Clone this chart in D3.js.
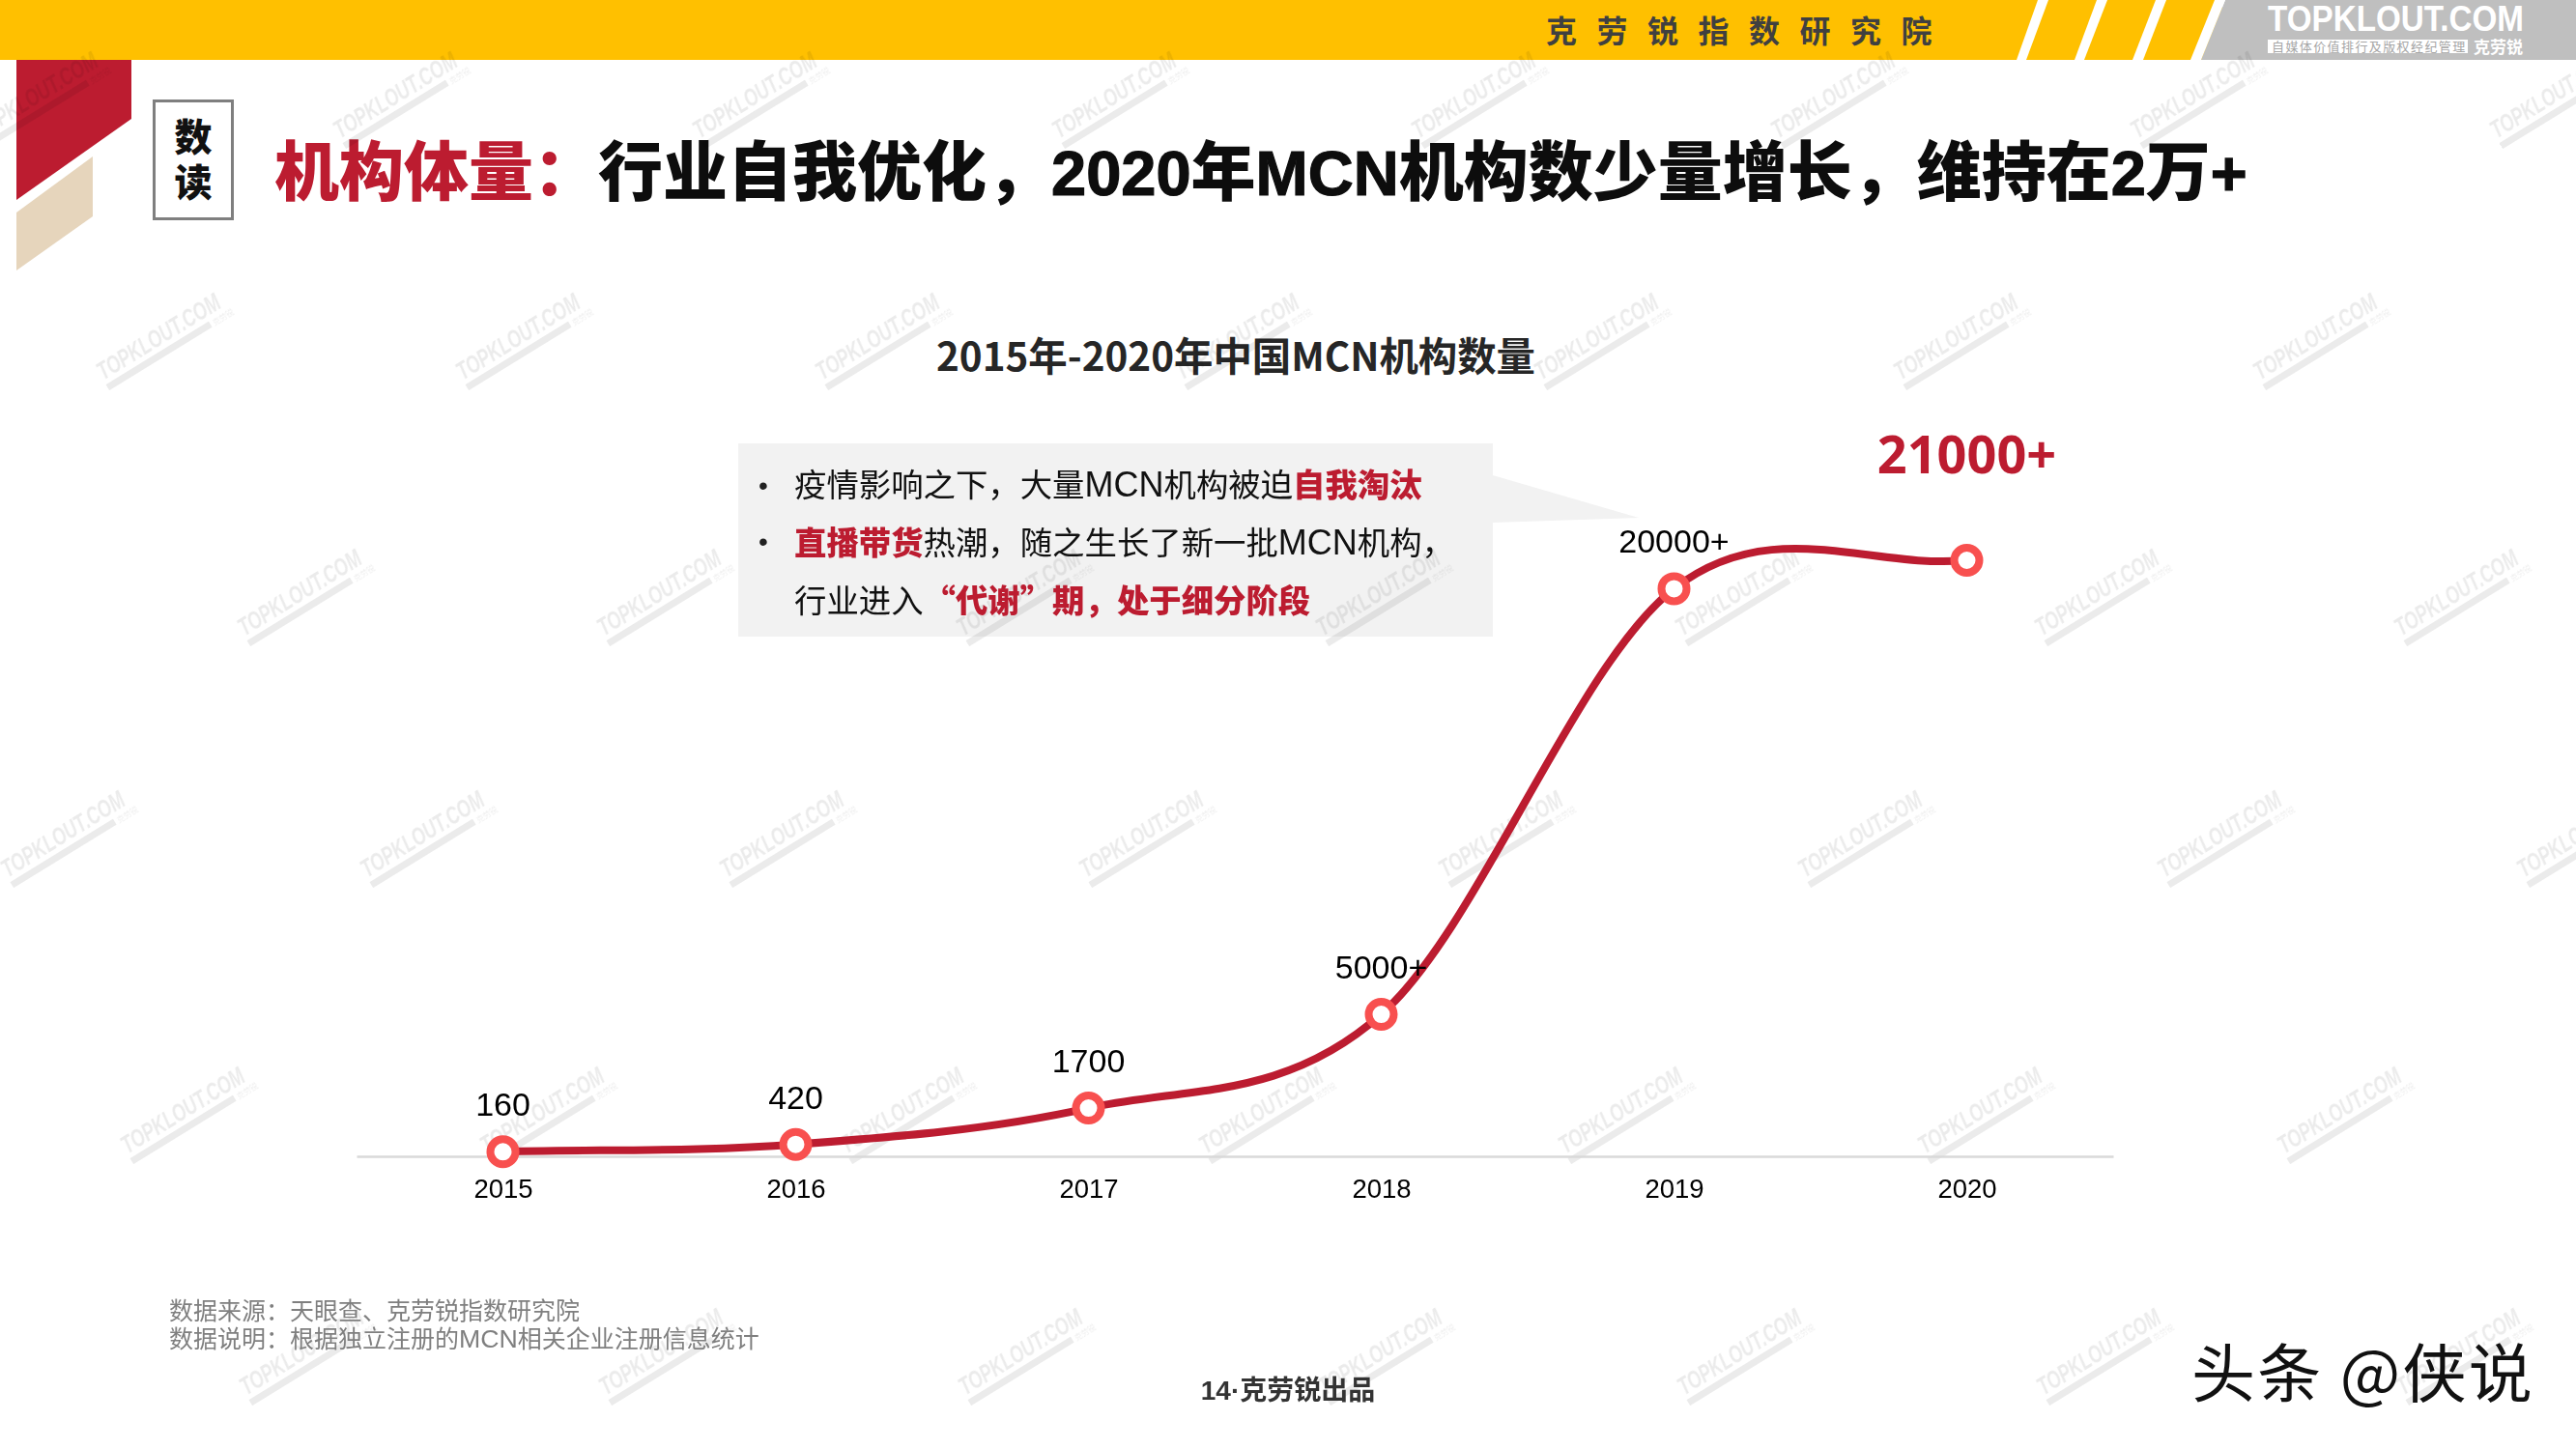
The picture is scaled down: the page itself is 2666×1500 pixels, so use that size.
<!DOCTYPE html>
<html>
<head>
<meta charset="utf-8">
<script src="https://cdn.jsdelivr.net/npm/d3@7"></script>
<style>
  html, body { margin: 0; padding: 0; background: #fff; overflow: hidden; }
  svg { display: block; }
  text { font-family: "Noto Sans CJK SC", sans-serif; }
  .num { font-family: "Liberation Sans", Arial, sans-serif; }
  .axis text { font-family: "Liberation Sans", Arial, sans-serif; font-size: 27.5px; fill: #000; }
</style>
</head>
<body>
<script>
var years = ["2015", "2016", "2017", "2018", "2019", "2020"];
var counts = [160, 420, 1700, 5000, 20000, 21000];
var countLabels = ["160", "420", "1700", "5000+", "20000+", "21000+"];

var mainTitleRed = "机构体量：";
var mainTitleBlack = "行业自我优化，2020年MCN机构数少量增长，维持在2万+";
var chartTitle = "2015年-2020年中国MCN机构数量";
var sourceLines = ["数据来源：天眼查、克劳锐指数研究院", "数据说明：根据独立注册的MCN相关企业注册信息统计"];

var noteLine1 = [["疫情影响之下，大量MCN机构被迫", false], ["自我淘汰", true]];
var noteLine2 = [["直播带货", true], ["热潮，随之生长了新一批MCN机构，", false]];
var noteLine3 = [["行业进入", false], ["“代谢”期，处于细分阶段", true]];

var width = 2666, height = 1500;
var red = "#BC1C30";
var latin = "'Liberation Sans', Arial, sans-serif";

var svg = d3.select("body").append("svg")
    .attr("width", width)
    .attr("height", height);

// splits a string so latin runs can use their own font and size
function addRuns(sel, str, latinSize, fill, weight) {
    str.split(/([A-Za-z0-9+·]+)/).filter(function(s) { return s.length; }).forEach(function(s) {
        var t = sel.append("tspan").text(s);
        if (fill) t.attr("fill", fill);
        if (weight) t.attr("font-weight", weight);
        if (/^[A-Za-z0-9+·]+$/.test(s)) {
            t.attr("class", "latin").style("font-family", latin).attr("font-size", latinSize);
            if (weight >= 700) t.attr("font-weight", 700);
        }
    });
}

// office-style smoothed line: 1/6 tangents inside, 1/3 at both ends
function officeCurve(context) {
    var pts = [];
    return {
        lineStart: function() { pts = []; },
        point: function(px, py) { pts.push([+px, +py]); },
        lineEnd: function() {
            context.moveTo(pts[0][0], pts[0][1]);
            for (var i = 0; i < pts.length - 1; i++) {
                var p1 = pts[i], p2 = pts[i + 1];
                var p0 = pts[i - 1] || p1, p3 = pts[i + 2] || p2;
                var f = i === 0 ? 1 / 3 : 1 / 6;
                var g = i === pts.length - 2 ? 1 / 3 : 1 / 6;
                context.bezierCurveTo(
                    p1[0] + f * (p2[0] - p0[0]), p1[1] + f * (p2[1] - p0[1]),
                    p2[0] + g * (p1[0] - p3[0]), p2[1] + g * (p1[1] - p3[1]),
                    p2[0], p2[1]);
            }
        },
        areaStart: function() {},
        areaEnd: function() {}
    };
}

// header band
var header = svg.append("g");
header.append("rect").attr("width", 2300).attr("height", 62).attr("fill", "#FFC000");
header.append("polygon").attr("points", "2303,0 2666,0 2666,62 2278,62").attr("fill", "#BFBFBF");
[[2109, 2120, 2087, 2097], [2170, 2181, 2147, 2157], [2231, 2242, 2207, 2218], [2292, 2303, 2267, 2278]].forEach(function(s) {
    header.append("polygon")
        .attr("points", s[0] + ",0 " + s[1] + ",0 " + s[3] + ",62 " + s[2] + ",62")
        .attr("fill", "#fff");
});
header.append("text")
    .attr("x", 1600).attr("y", 44)
    .attr("font-size", 32).attr("font-weight", 700)
    .attr("letter-spacing", 20.5)
    .attr("fill", "#404040")
    .text("克劳锐指数研究院");
header.append("text")
    .attr("x", 2347).attr("y", 32)
    .attr("textLength", 265).attr("lengthAdjust", "spacingAndGlyphs")
    .attr("font-size", 37).attr("font-weight", 700)
    .attr("fill", "#fff").style("font-family", "'Liberation Sans Narrow', 'Liberation Sans'")
    .text("TOPKLOUT.COM");
header.append("rect").attr("x", 2347).attr("y", 41).attr("width", 207).attr("height", 14).attr("fill", "#fff");
header.append("text")
    .attr("x", 2351).attr("y", 53)
    .attr("font-size", 13).attr("letter-spacing", 1.4)
    .attr("fill", "#a6a6a6")
    .text("自媒体价值排行及版权经纪管理");
header.append("text")
    .attr("x", 2560).attr("y", 55)
    .attr("font-size", 17).attr("font-weight", 700)
    .attr("fill", "#fff")
    .text("克劳锐");

// corner flag and title
svg.append("polygon").attr("points", "17,62 136,62 136,123 17,207").attr("fill", red);
svg.append("polygon").attr("points", "17,220 96,162 96,224 17,280").attr("fill", "#E6D5BC");
svg.append("rect")
    .attr("x", 159.5).attr("y", 104.5).attr("width", 81).attr("height", 122)
    .attr("fill", "#fff").attr("stroke", "#7F7F7F").attr("stroke-width", 3);
[["数", 156], ["读", 203]].forEach(function(d) {
    svg.append("text")
        .attr("x", 200).attr("y", d[1])
        .attr("text-anchor", "middle")
        .attr("font-size", 39).attr("font-weight", 900)
        .attr("fill", "#111")
        .text(d[0]);
});
var title = svg.append("text")
    .attr("x", 284).attr("y", 202)
    .attr("font-size", 67).attr("font-weight", 900);
title.append("tspan").attr("fill", red).text(mainTitleRed);
addRuns(title, mainTitleBlack, 65, "#0D0D0D");
title.selectAll("tspan.latin")
    .attr("font-weight", 700).attr("stroke", "#0D0D0D").attr("stroke-width", 1.2);

svg.append("text")
    .attr("x", 1279).attr("y", 384)
    .attr("text-anchor", "middle")
    .attr("font-size", 40.4).attr("font-weight", 700)
    .attr("fill", "#262626")
    .text(chartTitle);

// callout
svg.append("rect").attr("x", 764).attr("y", 459).attr("width", 781).attr("height", 200).attr("fill", "#F2F2F2");
svg.append("polygon").attr("points", "1545,492 1696,536 1545,541").attr("fill", "#F2F2F2");

// watermarks
var markRows = [[102, 48], [352, 175], [617, 321], [867, 76], [1153, 200], [1403, 323]];
var marks = svg.append("g").attr("opacity", 0.08);
markRows.forEach(function(row) {
    for (var x = row[1]; x < width + 60; x += 372) {
        var m = marks.append("g").attr("transform", "translate(" + x + "," + row[0] + ") rotate(-31.6)");
        m.append("text")
            .attr("x", -80).attr("y", 0)
            .attr("textLength", 145).attr("lengthAdjust", "spacingAndGlyphs")
            .attr("font-size", 25).attr("font-weight", 700)
            .style("font-family", "'Liberation Sans'").style("font-style", "italic")
            .attr("fill", "#000")
            .text("TOPKLOUT.COM");
        m.append("rect").attr("x", -80).attr("y", 5).attr("width", 125).attr("height", 7).attr("fill", "#000");
        m.append("text")
            .attr("x", 48).attr("y", 12)
            .attr("font-size", 8)
            .attr("fill", "#000")
            .text("克劳锐");
    }
});

// callout text
function noteText(parts, x, y) {
    var t = svg.append("text").attr("x", x).attr("y", y).attr("font-size", 33.4);
    parts.forEach(function(p) {
        addRuns(t, p[0], 36, p[1] ? red : "#111", p[1] ? 900 : 400);
    });
}
noteText(noteLine1, 822, 514);
noteText(noteLine2, 822, 574);
noteText(noteLine3, 822, 634);
[503, 561].forEach(function(y) {
    svg.append("text").attr("class", "num").attr("x", 790).attr("y", y + 9)
        .attr("text-anchor", "middle").attr("font-size", 28).attr("fill", "#222").text("•");
});

// chart
var x = d3.scalePoint().domain(years).range([369, 2187]).padding(0.5);
var y = d3.scaleLinear().domain([0, 21000]).range([1197, 580]);

var xAxis = d3.axisBottom(x).tickSize(0).tickPadding(23);

var axis = svg.append("g")
    .attr("class", "axis")
    .attr("transform", "translate(0,1197)")
    .call(xAxis);
axis.select(".domain").attr("stroke", "#D9D9D9").attr("stroke-width", 2.5);

var line = d3.line()
    .x(function(d, i) { return x(years[i]); })
    .y(function(d) { return y(d); })
    .curve(officeCurve);

svg.append("path")
    .datum(counts)
    .attr("d", line)
    .attr("fill", "none")
    .attr("stroke", red)
    .attr("stroke-width", 8);

svg.selectAll(".dot")
    .data(counts)
    .enter().append("circle")
    .attr("class", "dot")
    .attr("cx", function(d, i) { return x(years[i]); })
    .attr("cy", function(d) { return y(d); })
    .attr("r", 13)
    .attr("fill", "#fff")
    .attr("stroke", "#F8504F")
    .attr("stroke-width", 8);

svg.selectAll(".value")
    .data(counts.slice(0, 5))
    .enter().append("text")
    .attr("class", "value num")
    .attr("x", function(d, i) { return x(years[i]); })
    .attr("y", function(d) { return y(d) - 37; })
    .attr("text-anchor", "middle")
    .attr("font-size", 34)
    .attr("fill", "#000")
    .text(function(d, i) { return countLabels[i]; });

svg.append("text")
    .attr("x", x(years[5])).attr("y", 490)
    .attr("text-anchor", "middle")
    .attr("font-size", 54).attr("font-weight", 700)
    .style("font-family", "'Noto Sans'")
    .attr("fill", red)
    .text(countLabels[5]);

// footer
sourceLines.forEach(function(s, i) {
    var t = svg.append("text")
        .attr("x", 175).attr("y", 1366 + i * 29)
        .attr("font-size", 25)
        .attr("fill", "#7F7F7F");
    addRuns(t, s, 26.7);
});
var pageNo = svg.append("text")
    .attr("x", 1333).attr("y", 1449)
    .attr("text-anchor", "middle")
    .attr("font-size", 28).attr("font-weight", 700)
    .attr("fill", "#333");
addRuns(pageNo, "14·克劳锐出品", 28, null, 700);
svg.append("text")
    .attr("x", 2268).attr("y", 1446)
    .attr("font-size", 66).attr("letter-spacing", 2.3)
    .attr("fill", "#111")
    .text("头条 @侠说");
</script>
</body>
</html>
